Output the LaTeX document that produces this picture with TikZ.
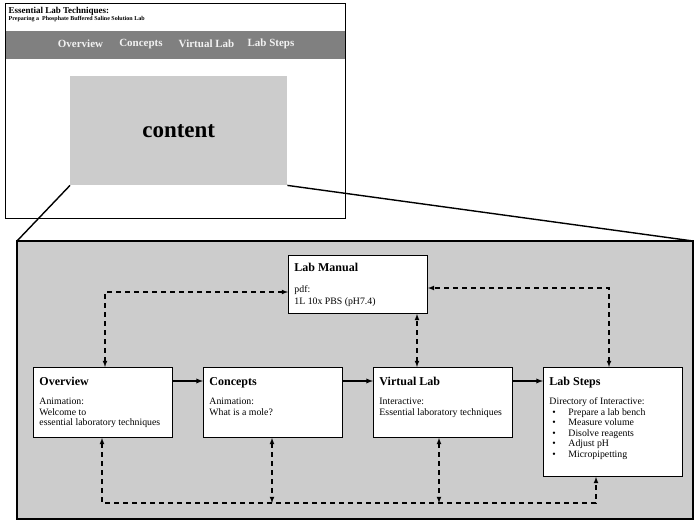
\documentclass[tikz,border=0pt]{standalone}
\usepackage{fontspec}
\setmainfont{Liberation Serif}
\usepackage{xcolor}
\usetikzlibrary{calc, positioning}

\definecolor{panelgray}{gray}{0.8}
\definecolor{navgray}{gray}{0.5}
\definecolor{navtext}{gray}{0.95}

% hộp: rộng, cao, khoảng trên, khoảng giữa, tiêu đề, nội dung
\newcommand{\labbox}[6]{\parbox[t][#2][t]{#1}{\rule{0pt}{#3}{\fontsize{12}{14}\selectfont\bfseries #5}\par\vspace{#4}#6}}
\newcommand{\stepitem}[1]{\hspace*{3pt}\makebox[16pt][l]{\textbullet}#1}

\tikzset{
    stepbox/.style={draw, fill=white, line width=0.9pt, anchor=north west,
        inner sep=6pt, font=\fontsize{9.8}{10.6}\selectfont},
    flow/.style={->, line width=1.3pt},
    link/.style={<->, line width=1.1pt, dash pattern=on 5pt off 4pt},
    navitem/.style={text=navtext, font=\fontsize{11}{13}\selectfont\bfseries},
}

\begin{document}
\begin{tikzpicture}[>=latex, x=1pt, y=-1pt]
    \useasboundingbox (0,0) rectangle (699,525);

    % Vẽ trang web
    \fill[navgray] (5,31) rectangle (345,59);
    \draw[line width=0.9pt] (5,3) rectangle (345,218);
    \node[anchor=west, font=\fontsize{9}{10}\selectfont\bfseries] (title) at (5,11) {Essential Lab Techniques:};
    \node[anchor=west, inner sep=0pt, font=\fontsize{6}{7}\selectfont\bfseries] (subtitle) at (8.5,19) {Preparing a\ \ Phosphate Buffered Saline Solution Lab};
    \node[navitem] (nav1) at (80.5,44) {Overview};
    \node[navitem] (nav2) at (141,44) {Concepts};
    \node[navitem] (nav3) at (206.5,44) {Virtual Lab};
    \node[navitem] (nav4) at (271,44) {Lab Steps};
    \node[fill=panelgray, minimum width=217pt, minimum height=109pt, anchor=north west,
        font=\fontsize{23}{26}\selectfont\bfseries] (content) at (70,76) {content};

    % Khung phóng to
    \node[draw, fill=panelgray, line width=1.8pt, minimum width=676pt, minimum height=278pt,
        anchor=north west, outer sep=0pt] (panel) at (17,241) {};
    \draw[line width=1.4pt] (content.south west) -- (panel.north west);
    \draw[line width=1.4pt] (content.south east) -- (panel.north east);

    % Các hộp
    \node[stepbox] (manual) at (288,255) {\labbox{127pt}{46pt}{10pt}{10pt}{Lab Manual}{pdf:\\[2pt]1L 10x PBS (pH7.4)}};
    \node[stepbox] (overview) at (33,367) {\labbox{127pt}{58pt}{12.5pt}{8pt}{Overview}{Animation:\\Welcome to\\essential laboratory techniques}};
    \node[stepbox] (concepts) at (203,367) {\labbox{127pt}{58pt}{12.5pt}{8pt}{Concepts}{Animation:\\What is a mole?}};
    \node[stepbox] (virtual) at (373,367) {\labbox{127pt}{58pt}{12.5pt}{8pt}{Virtual Lab}{Interactive:\\Essential laboratory techniques}};
    \node[stepbox] (steps) at (543,367) {\labbox{127pt}{97pt}{12.5pt}{8pt}{Lab Steps}{Directory of Interactive:\\
        \stepitem{Prepare a lab bench}\\ \stepitem{Measure volume}\\ \stepitem{Disolve reagents}\\
        \stepitem{Adjust pH}\\ \stepitem{Micropipetting}}};

    % Mũi tên liền
    \draw[flow] ([yshift=-14pt]overview.north east) -- ([yshift=-14pt]concepts.north west);
    \draw[flow] ([yshift=-14pt]concepts.north east) -- ([yshift=-14pt]virtual.north west);
    \draw[flow] ([yshift=-14pt]virtual.north east) -- ([yshift=-14pt]steps.north west);

    % Mũi tên nét đứt
    \coordinate (bus) at (350,503);
    \draw[link] ([xshift=72pt]overview.north west) |- ([yshift=-37pt]manual.north west);
    \draw[link] ([xshift=66pt]steps.north west) |- ([yshift=-33pt]manual.north east);
    \draw[link] ([xshift=44pt]virtual.north west) -- ([xshift=44pt]virtual.north west |- manual.south);
    \draw[link] ([xshift=69pt]overview.south west) |- (bus) -| ([xshift=53pt]steps.south west);
    \draw[link] ([xshift=69pt]concepts.south west) -- ([xshift=69pt]concepts.south west |- bus);
    \draw[link] ([xshift=66pt]virtual.south west) -- ([xshift=66pt]virtual.south west |- bus);
\end{tikzpicture}
\end{document}
